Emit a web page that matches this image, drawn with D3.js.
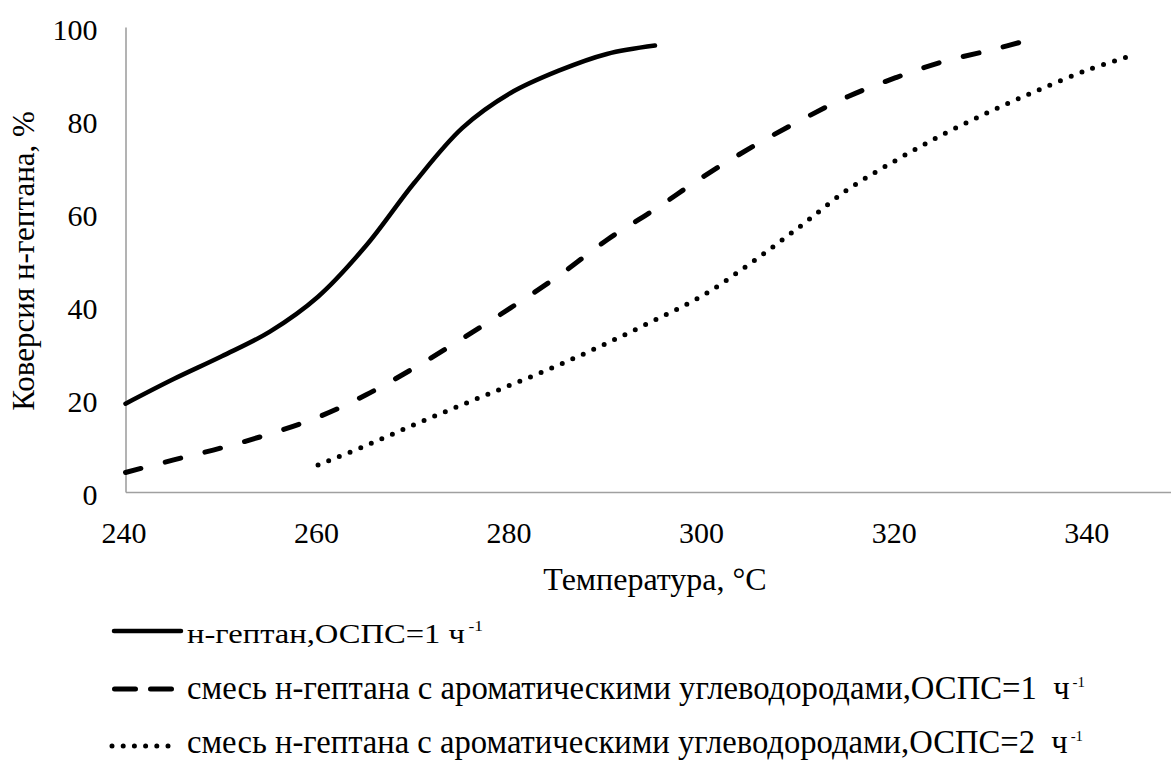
<!DOCTYPE html>
<html>
<head>
<meta charset="utf-8">
<script src="https://cdn.jsdelivr.net/npm/d3@7"></script>
<style>
  body { margin: 0; background: #fff; }
  text { font-family: "Liberation Serif", "Times New Roman", serif; fill: #000; }
</style>
</head>
<body>
<div id="chart"></div>
<script>
var width = 1171,
    height = 762

// tick labels
var xTicks = [240, 260, 280, 300, 320, 340]
var yTicks = [0, 20, 40, 60, 80, 100]

// н-гептан, ОСПС=1
var tempA = [240, 245, 250, 255, 260, 265, 270, 275, 280, 285, 290, 295]
var convA = [19, 24.3, 29.2, 34.5, 42, 53, 66.5, 78.3, 85.8, 90.6, 94.2, 96]

// смесь, ОСПС=1
var tempB = [240, 245, 250, 255, 260, 265, 270, 275, 280, 285, 290, 295, 300, 305, 310, 315, 320, 325, 330, 334]
var convB = [4.2, 6.9, 9.5, 12.5, 16.1, 20.9, 26.7, 33, 39.6, 46.5, 54.2, 60.8, 67.8, 74.1, 79.8, 85, 89.1, 92.6, 95.1, 97.3]

// смесь, ОСПС=2
var tempC = [260, 265, 270, 275, 280, 285, 290, 295, 300, 305, 310, 315, 320, 325, 330, 335, 340, 344]
var convC = [5.8, 10, 14.5, 18.8, 23, 27.3, 32, 37, 42.3, 49.3, 57, 65, 71.3, 77, 82, 86.6, 90.8, 93.5]

var seriesNames = [
  "н-гептан,ОСПС=1 ч",
  "смесь н-гептана с ароматическими углеводородами,ОСПС=1  ч",
  "смесь н-гептана с ароматическими углеводородами,ОСПС=2  ч"
]

var series = [
  { name: seriesNames[0], temps: tempA, values: convA, dash: null, width: 4.5 },
  { name: seriesNames[1], temps: tempB, values: convB, dash: "16,25", width: 5 },
  { name: seriesNames[2], temps: tempC, values: convC, dash: "0,11.5", width: 5 }
]

var svg = d3.select("#chart")
            .append("svg")
            .attr("width", width)
            .attr("height", height)

var x = d3.scaleLinear()
          .domain([240, 348.6])
          .range([125.5, 1171])

var y = d3.scaleLinear()
          .domain([0, 100])
          .range([492, 27])

// axes: grey lines, no tick marks
var xAxis = svg.append("g")
    .attr("transform", "translate(0," + y(0) + ")")
    .call(d3.axisBottom(x).tickValues(xTicks).tickSize(0).tickPadding(30))
xAxis.selectAll("text").attr("font-size", 30).attr("dx", -2)

var yAxis = svg.append("g")
    .attr("transform", "translate(" + x(240) + ",0)")
    .call(d3.axisLeft(y).tickValues(yTicks).tickSize(0).tickPadding(28))
yAxis.selectAll("text").attr("font-size", 30).attr("dy", "0.4em")

svg.selectAll(".domain")
   .attr("stroke", "#a0a0a0")
   .attr("stroke-width", 1.6)

// axis titles
svg.append("text")
   .attr("x", 655)
   .attr("y", 590)
   .attr("text-anchor", "middle")
   .attr("font-size", 32)
   .text("Температура, °C")

svg.append("text")
   .attr("transform", "translate(34,261) rotate(-90)")
   .attr("text-anchor", "middle")
   .attr("font-size", 31)
   .text("Коверсия н-гептана, %")

// curves
var line = d3.line()
             .x(function(d) { return x(d[0]) })
             .y(function(d) { return y(d[1]) })
             .curve(d3.curveCatmullRom.alpha(0.5))

series.forEach(function(s) {
  var pts = s.temps.map(function(t, i) { return [t, s.values[i]] })
  svg.append("path")
     .datum(pts)
     .attr("d", line)
     .attr("fill", "none")
     .attr("stroke", "#000")
     .attr("stroke-width", s.width)
     .attr("stroke-linecap", "round")
     .attr("stroke-dasharray", s.dash)
})

// legend
var legendRows = [
  { base: 643, ly: 631, x1: 114, x2: 181, dash: null, size: 28, len: 296 },
  { base: 699, ly: 689, x1: 114.5, x2: 172, dash: "21,15", size: 33, len: 898 },
  { base: 753, ly: 746, x1: 112, x2: 170, dash: "0,11.2", size: 33, len: 896 }
]

legendRows.forEach(function(r, i) {
  svg.append("line")
     .attr("x1", r.x1).attr("x2", r.x2)
     .attr("y1", r.ly).attr("y2", r.ly)
     .attr("stroke", "#000")
     .attr("stroke-width", series[i].width)
     .attr("stroke-linecap", "round")
     .attr("stroke-dasharray", r.dash)

  var t = svg.append("text")
     .attr("x", 187)
     .attr("y", r.base)
     .attr("font-size", r.size)
     .style("white-space", "pre")
     .attr("textLength", r.len)
     .attr("lengthAdjust", "spacingAndGlyphs")
  t.append("tspan").text(series[i].name)
  t.append("tspan")
     .attr("dx", 3)
     .attr("dy", -12)
     .attr("font-size", 15)
     .text("-1")
})
</script>
</body>
</html>
